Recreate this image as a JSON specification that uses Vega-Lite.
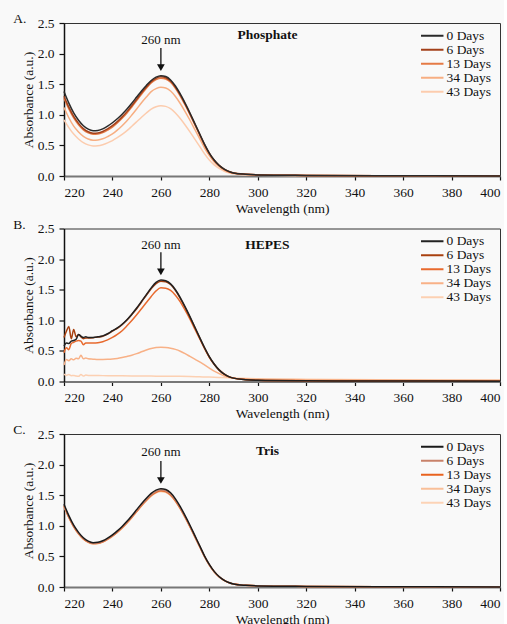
{
"$schema":"https://vega.github.io/schema/vega-lite/v6.json",
"background":"#f9f9f9",
"padding":{"left":12,"top":11,"right":0,"bottom":0},
"config":{
 "font":"Times New Roman, Liberation Serif, serif",
 "text":{"font":"Times New Roman, Liberation Serif, serif"},
 "view":{"stroke":"#333","strokeWidth":1},
 "axis":{"grid":false,"labelOverlap":false,"labelFontSize":13.5,"titleFontSize":13.5,"titleFontWeight":"normal","labelColor":"#111","titleColor":"#111","domainColor":"#111","domainWidth":1.5,"tickColor":"#111","tickWidth":1.2,"labelFont":"Times New Roman, Liberation Serif, serif","titleFont":"Times New Roman, Liberation Serif, serif"},
 "axisX":{"tickSize":4,"labelPadding":5,"titlePadding":2.5,"domainColor":"#777","domainWidth":2},
 "axisY":{"tickSize":5,"labelPadding":5,"titlePadding":2},
 "legend":{"symbolType":"M-3,0H3","symbolSize":56,"symbolStrokeWidth":2,"labelFontSize":13.5,"labelFont":"Times New Roman, Liberation Serif, serif","labelColor":"#111","rowPadding":-1.7,"labelOffset":7.5,"padding":0},
 "concat":{"spacing":1.5}
},
"datasets":{
"A":[
{"w":220,"s":"43 Days","a":0.918},{"w":222,"s":"43 Days","a":0.791},{"w":224,"s":"43 Days","a":0.685},{"w":226,"s":"43 Days","a":0.605},{"w":228,"s":"43 Days","a":0.545},{"w":230,"s":"43 Days","a":0.509},{"w":232,"s":"43 Days","a":0.492},{"w":234,"s":"43 Days","a":0.495},{"w":236,"s":"43 Days","a":0.512},{"w":238,"s":"43 Days","a":0.542},{"w":240,"s":"43 Days","a":0.579},{"w":242,"s":"43 Days","a":0.626},{"w":244,"s":"43 Days","a":0.681},{"w":246,"s":"43 Days","a":0.742},{"w":248,"s":"43 Days","a":0.813},{"w":250,"s":"43 Days","a":0.886},{"w":252,"s":"43 Days","a":0.96},{"w":254,"s":"43 Days","a":1.03},{"w":256,"s":"43 Days","a":1.092},{"w":258,"s":"43 Days","a":1.131},{"w":260,"s":"43 Days","a":1.148},{"w":262,"s":"43 Days","a":1.138},{"w":264,"s":"43 Days","a":1.099},{"w":266,"s":"43 Days","a":1.029},{"w":268,"s":"43 Days","a":0.938},{"w":270,"s":"43 Days","a":0.833},{"w":272,"s":"43 Days","a":0.721},{"w":274,"s":"43 Days","a":0.602},{"w":276,"s":"43 Days","a":0.483},{"w":278,"s":"43 Days","a":0.364},{"w":280,"s":"43 Days","a":0.263},{"w":282,"s":"43 Days","a":0.182},{"w":284,"s":"43 Days","a":0.123},{"w":286,"s":"43 Days","a":0.081},{"w":288,"s":"43 Days","a":0.053},{"w":290,"s":"43 Days","a":0.035},{"w":295,"s":"43 Days","a":0.02},{"w":300,"s":"43 Days","a":0.013},{"w":320,"s":"43 Days","a":0.007},{"w":350,"s":"43 Days","a":0.004},{"w":400,"s":"43 Days","a":0.002},
{"w":220,"s":"34 Days","a":1.12},{"w":222,"s":"34 Days","a":0.952},{"w":224,"s":"34 Days","a":0.814},{"w":226,"s":"34 Days","a":0.719},{"w":228,"s":"34 Days","a":0.648},{"w":230,"s":"34 Days","a":0.604},{"w":232,"s":"34 Days","a":0.585},{"w":234,"s":"34 Days","a":0.589},{"w":236,"s":"34 Days","a":0.608},{"w":238,"s":"34 Days","a":0.644},{"w":240,"s":"34 Days","a":0.687},{"w":242,"s":"34 Days","a":0.75},{"w":244,"s":"34 Days","a":0.822},{"w":246,"s":"34 Days","a":0.903},{"w":248,"s":"34 Days","a":0.996},{"w":250,"s":"34 Days","a":1.095},{"w":252,"s":"34 Days","a":1.197},{"w":254,"s":"34 Days","a":1.291},{"w":256,"s":"34 Days","a":1.379},{"w":258,"s":"34 Days","a":1.428},{"w":260,"s":"34 Days","a":1.45},{"w":262,"s":"34 Days","a":1.437},{"w":264,"s":"34 Days","a":1.388},{"w":266,"s":"34 Days","a":1.299},{"w":268,"s":"34 Days","a":1.185},{"w":270,"s":"34 Days","a":1.052},{"w":272,"s":"34 Days","a":0.911},{"w":274,"s":"34 Days","a":0.76},{"w":276,"s":"34 Days","a":0.61},{"w":278,"s":"34 Days","a":0.46},{"w":280,"s":"34 Days","a":0.332},{"w":282,"s":"34 Days","a":0.23},{"w":284,"s":"34 Days","a":0.155},{"w":286,"s":"34 Days","a":0.102},{"w":288,"s":"34 Days","a":0.066},{"w":290,"s":"34 Days","a":0.044},{"w":295,"s":"34 Days","a":0.025},{"w":300,"s":"34 Days","a":0.016},{"w":320,"s":"34 Days","a":0.009},{"w":350,"s":"34 Days","a":0.005},{"w":400,"s":"34 Days","a":0.002},
{"w":220,"s":"13 Days","a":1.27},{"w":222,"s":"13 Days","a":1.095},{"w":224,"s":"13 Days","a":0.948},{"w":226,"s":"13 Days","a":0.837},{"w":228,"s":"13 Days","a":0.754},{"w":230,"s":"13 Days","a":0.704},{"w":232,"s":"13 Days","a":0.681},{"w":234,"s":"13 Days","a":0.685},{"w":236,"s":"13 Days","a":0.708},{"w":238,"s":"13 Days","a":0.75},{"w":240,"s":"13 Days","a":0.8},{"w":242,"s":"13 Days","a":0.867},{"w":244,"s":"13 Days","a":0.943},{"w":246,"s":"13 Days","a":1.03},{"w":248,"s":"13 Days","a":1.128},{"w":250,"s":"13 Days","a":1.231},{"w":252,"s":"13 Days","a":1.336},{"w":254,"s":"13 Days","a":1.433},{"w":256,"s":"13 Days","a":1.521},{"w":258,"s":"13 Days","a":1.575},{"w":260,"s":"13 Days","a":1.599},{"w":262,"s":"13 Days","a":1.584},{"w":264,"s":"13 Days","a":1.531},{"w":266,"s":"13 Days","a":1.433},{"w":268,"s":"13 Days","a":1.307},{"w":270,"s":"13 Days","a":1.16},{"w":272,"s":"13 Days","a":1.004},{"w":274,"s":"13 Days","a":0.839},{"w":276,"s":"13 Days","a":0.673},{"w":278,"s":"13 Days","a":0.507},{"w":280,"s":"13 Days","a":0.366},{"w":282,"s":"13 Days","a":0.254},{"w":284,"s":"13 Days","a":0.171},{"w":286,"s":"13 Days","a":0.112},{"w":288,"s":"13 Days","a":0.073},{"w":290,"s":"13 Days","a":0.049},{"w":295,"s":"13 Days","a":0.027},{"w":300,"s":"13 Days","a":0.018},{"w":320,"s":"13 Days","a":0.01},{"w":350,"s":"13 Days","a":0.005},{"w":400,"s":"13 Days","a":0.002},
{"w":220,"s":"6 Days","a":1.304},{"w":222,"s":"6 Days","a":1.125},{"w":224,"s":"6 Days","a":0.973},{"w":226,"s":"6 Days","a":0.86},{"w":228,"s":"6 Days","a":0.775},{"w":230,"s":"6 Days","a":0.723},{"w":232,"s":"6 Days","a":0.699},{"w":234,"s":"6 Days","a":0.704},{"w":236,"s":"6 Days","a":0.728},{"w":238,"s":"6 Days","a":0.77},{"w":240,"s":"6 Days","a":0.822},{"w":242,"s":"6 Days","a":0.888},{"w":244,"s":"6 Days","a":0.966},{"w":246,"s":"6 Days","a":1.052},{"w":248,"s":"6 Days","a":1.15},{"w":250,"s":"6 Days","a":1.253},{"w":252,"s":"6 Days","a":1.358},{"w":254,"s":"6 Days","a":1.453},{"w":256,"s":"6 Days","a":1.541},{"w":258,"s":"6 Days","a":1.596},{"w":260,"s":"6 Days","a":1.62},{"w":262,"s":"6 Days","a":1.606},{"w":264,"s":"6 Days","a":1.551},{"w":266,"s":"6 Days","a":1.452},{"w":268,"s":"6 Days","a":1.324},{"w":270,"s":"6 Days","a":1.176},{"w":272,"s":"6 Days","a":1.018},{"w":274,"s":"6 Days","a":0.85},{"w":276,"s":"6 Days","a":0.682},{"w":278,"s":"6 Days","a":0.514},{"w":280,"s":"6 Days","a":0.37},{"w":282,"s":"6 Days","a":0.257},{"w":284,"s":"6 Days","a":0.173},{"w":286,"s":"6 Days","a":0.114},{"w":288,"s":"6 Days","a":0.074},{"w":290,"s":"6 Days","a":0.049},{"w":295,"s":"6 Days","a":0.028},{"w":300,"s":"6 Days","a":0.018},{"w":320,"s":"6 Days","a":0.01},{"w":350,"s":"6 Days","a":0.005},{"w":400,"s":"6 Days","a":0.002},
{"w":220,"s":"0 Days","a":1.38},{"w":222,"s":"0 Days","a":1.19},{"w":224,"s":"0 Days","a":1.03},{"w":226,"s":"0 Days","a":0.91},{"w":228,"s":"0 Days","a":0.82},{"w":230,"s":"0 Days","a":0.765},{"w":232,"s":"0 Days","a":0.74},{"w":234,"s":"0 Days","a":0.745},{"w":236,"s":"0 Days","a":0.77},{"w":238,"s":"0 Days","a":0.815},{"w":240,"s":"0 Days","a":0.87},{"w":242,"s":"0 Days","a":0.935},{"w":244,"s":"0 Days","a":1.01},{"w":246,"s":"0 Days","a":1.095},{"w":248,"s":"0 Days","a":1.19},{"w":250,"s":"0 Days","a":1.29},{"w":252,"s":"0 Days","a":1.39},{"w":254,"s":"0 Days","a":1.48},{"w":256,"s":"0 Days","a":1.56},{"w":258,"s":"0 Days","a":1.615},{"w":260,"s":"0 Days","a":1.64},{"w":262,"s":"0 Days","a":1.625},{"w":264,"s":"0 Days","a":1.57},{"w":266,"s":"0 Days","a":1.47},{"w":268,"s":"0 Days","a":1.34},{"w":270,"s":"0 Days","a":1.19},{"w":272,"s":"0 Days","a":1.03},{"w":274,"s":"0 Days","a":0.86},{"w":276,"s":"0 Days","a":0.69},{"w":278,"s":"0 Days","a":0.52},{"w":280,"s":"0 Days","a":0.375},{"w":282,"s":"0 Days","a":0.26},{"w":284,"s":"0 Days","a":0.175},{"w":286,"s":"0 Days","a":0.115},{"w":288,"s":"0 Days","a":0.075},{"w":290,"s":"0 Days","a":0.05},{"w":295,"s":"0 Days","a":0.028},{"w":300,"s":"0 Days","a":0.018},{"w":320,"s":"0 Days","a":0.01},{"w":350,"s":"0 Days","a":0.005},{"w":400,"s":"0 Days","a":0.002}
],
"B":[
{"w":220,"s":"43 Days","a":0.12},{"w":221,"s":"43 Days","a":0.1},{"w":222,"s":"43 Days","a":0.115},{"w":223,"s":"43 Days","a":0.095},{"w":224,"s":"43 Days","a":0.1},{"w":225,"s":"43 Days","a":0.09},{"w":226,"s":"43 Days","a":0.085},{"w":227,"s":"43 Days","a":0.115},{"w":228,"s":"43 Days","a":0.09},{"w":229,"s":"43 Days","a":0.105},{"w":230,"s":"43 Days","a":0.1},{"w":232,"s":"43 Days","a":0.098},{"w":234,"s":"43 Days","a":0.097},{"w":236,"s":"43 Days","a":0.096},{"w":238,"s":"43 Days","a":0.095},{"w":240,"s":"43 Days","a":0.094},{"w":244,"s":"43 Days","a":0.092},{"w":248,"s":"43 Days","a":0.091},{"w":252,"s":"43 Days","a":0.089},{"w":256,"s":"43 Days","a":0.088},{"w":260,"s":"43 Days","a":0.087},{"w":264,"s":"43 Days","a":0.086},{"w":268,"s":"43 Days","a":0.084},{"w":272,"s":"43 Days","a":0.081},{"w":276,"s":"43 Days","a":0.077},{"w":280,"s":"43 Days","a":0.072},{"w":284,"s":"43 Days","a":0.067},{"w":288,"s":"43 Days","a":0.061},{"w":292,"s":"43 Days","a":0.055},{"w":300,"s":"43 Days","a":0.045},{"w":320,"s":"43 Days","a":0.035},{"w":350,"s":"43 Days","a":0.028},{"w":400,"s":"43 Days","a":0.02},
{"w":220,"s":"34 Days","a":0.27},{"w":221,"s":"34 Days","a":0.36},{"w":222,"s":"34 Days","a":0.34},{"w":223,"s":"34 Days","a":0.37},{"w":224,"s":"34 Days","a":0.355},{"w":225,"s":"34 Days","a":0.38},{"w":226,"s":"34 Days","a":0.37},{"w":227,"s":"34 Days","a":0.43},{"w":228,"s":"34 Days","a":0.37},{"w":229,"s":"34 Days","a":0.385},{"w":230,"s":"34 Days","a":0.37},{"w":232,"s":"34 Days","a":0.365},{"w":234,"s":"34 Days","a":0.36},{"w":236,"s":"34 Days","a":0.36},{"w":238,"s":"34 Days","a":0.362},{"w":240,"s":"34 Days","a":0.367},{"w":242,"s":"34 Days","a":0.377},{"w":244,"s":"34 Days","a":0.392},{"w":246,"s":"34 Days","a":0.41},{"w":248,"s":"34 Days","a":0.43},{"w":250,"s":"34 Days","a":0.455},{"w":252,"s":"34 Days","a":0.485},{"w":254,"s":"34 Days","a":0.515},{"w":256,"s":"34 Days","a":0.54},{"w":258,"s":"34 Days","a":0.555},{"w":260,"s":"34 Days","a":0.56},{"w":262,"s":"34 Days","a":0.556},{"w":264,"s":"34 Days","a":0.545},{"w":266,"s":"34 Days","a":0.525},{"w":268,"s":"34 Days","a":0.495},{"w":270,"s":"34 Days","a":0.455},{"w":272,"s":"34 Days","a":0.41},{"w":274,"s":"34 Days","a":0.365},{"w":276,"s":"34 Days","a":0.32},{"w":278,"s":"34 Days","a":0.27},{"w":280,"s":"34 Days","a":0.22},{"w":282,"s":"34 Days","a":0.17},{"w":284,"s":"34 Days","a":0.13},{"w":286,"s":"34 Days","a":0.095},{"w":288,"s":"34 Days","a":0.07},{"w":290,"s":"34 Days","a":0.055},{"w":295,"s":"34 Days","a":0.042},{"w":300,"s":"34 Days","a":0.036},{"w":320,"s":"34 Days","a":0.03},{"w":350,"s":"34 Days","a":0.025},{"w":400,"s":"34 Days","a":0.02},
{"w":220,"s":"13 Days","a":0.47},{"w":221,"s":"13 Days","a":0.55},{"w":222,"s":"13 Days","a":0.52},{"w":223,"s":"13 Days","a":0.62},{"w":224,"s":"13 Days","a":0.64},{"w":225,"s":"13 Days","a":0.66},{"w":226,"s":"13 Days","a":0.67},{"w":227,"s":"13 Days","a":0.66},{"w":228,"s":"13 Days","a":0.6},{"w":229,"s":"13 Days","a":0.63},{"w":230,"s":"13 Days","a":0.63},{"w":232,"s":"13 Days","a":0.63},{"w":234,"s":"13 Days","a":0.635},{"w":236,"s":"13 Days","a":0.65},{"w":238,"s":"13 Days","a":0.68},{"w":240,"s":"13 Days","a":0.72},{"w":242,"s":"13 Days","a":0.77},{"w":244,"s":"13 Days","a":0.83},{"w":246,"s":"13 Days","a":0.91},{"w":248,"s":"13 Days","a":0.995},{"w":250,"s":"13 Days","a":1.09},{"w":252,"s":"13 Days","a":1.19},{"w":254,"s":"13 Days","a":1.29},{"w":256,"s":"13 Days","a":1.39},{"w":258,"s":"13 Days","a":1.48},{"w":260,"s":"13 Days","a":1.53},{"w":262,"s":"13 Days","a":1.525},{"w":264,"s":"13 Days","a":1.49},{"w":266,"s":"13 Days","a":1.41},{"w":268,"s":"13 Days","a":1.3},{"w":270,"s":"13 Days","a":1.165},{"w":272,"s":"13 Days","a":1.02},{"w":274,"s":"13 Days","a":0.86},{"w":276,"s":"13 Days","a":0.7},{"w":278,"s":"13 Days","a":0.54},{"w":280,"s":"13 Days","a":0.395},{"w":282,"s":"13 Days","a":0.28},{"w":284,"s":"13 Days","a":0.19},{"w":286,"s":"13 Days","a":0.125},{"w":288,"s":"13 Days","a":0.08},{"w":290,"s":"13 Days","a":0.055},{"w":295,"s":"13 Days","a":0.032},{"w":300,"s":"13 Days","a":0.022},{"w":320,"s":"13 Days","a":0.014},{"w":350,"s":"13 Days","a":0.01},{"w":400,"s":"13 Days","a":0.007},
{"w":220,"s":"6 Days","a":0.72},{"w":221,"s":"6 Days","a":0.82},{"w":222,"s":"6 Days","a":0.9},{"w":223,"s":"6 Days","a":0.7},{"w":224,"s":"6 Days","a":0.85},{"w":225,"s":"6 Days","a":0.73},{"w":226,"s":"6 Days","a":0.77},{"w":227,"s":"6 Days","a":0.73},{"w":228,"s":"6 Days","a":0.7},{"w":229,"s":"6 Days","a":0.71},{"w":230,"s":"6 Days","a":0.71},{"w":232,"s":"6 Days","a":0.715},{"w":234,"s":"6 Days","a":0.725},{"w":236,"s":"6 Days","a":0.74},{"w":238,"s":"6 Days","a":0.775},{"w":240,"s":"6 Days","a":0.825},{"w":242,"s":"6 Days","a":0.87},{"w":244,"s":"6 Days","a":0.93},{"w":246,"s":"6 Days","a":1.005},{"w":248,"s":"6 Days","a":1.095},{"w":250,"s":"6 Days","a":1.19},{"w":252,"s":"6 Days","a":1.3},{"w":254,"s":"6 Days","a":1.41},{"w":256,"s":"6 Days","a":1.515},{"w":258,"s":"6 Days","a":1.6},{"w":260,"s":"6 Days","a":1.64},{"w":262,"s":"6 Days","a":1.63},{"w":264,"s":"6 Days","a":1.585},{"w":266,"s":"6 Days","a":1.49},{"w":268,"s":"6 Days","a":1.36},{"w":270,"s":"6 Days","a":1.21},{"w":272,"s":"6 Days","a":1.05},{"w":274,"s":"6 Days","a":0.885},{"w":276,"s":"6 Days","a":0.715},{"w":278,"s":"6 Days","a":0.55},{"w":280,"s":"6 Days","a":0.4},{"w":282,"s":"6 Days","a":0.283},{"w":284,"s":"6 Days","a":0.19},{"w":286,"s":"6 Days","a":0.125},{"w":288,"s":"6 Days","a":0.08},{"w":290,"s":"6 Days","a":0.055},{"w":295,"s":"6 Days","a":0.03},{"w":300,"s":"6 Days","a":0.02},{"w":320,"s":"6 Days","a":0.012},{"w":350,"s":"6 Days","a":0.008},{"w":400,"s":"6 Days","a":0.005},
{"w":220,"s":"0 Days","a":0.58},{"w":221,"s":"0 Days","a":0.63},{"w":222,"s":"0 Days","a":0.62},{"w":223,"s":"0 Days","a":0.66},{"w":224,"s":"0 Days","a":0.67},{"w":225,"s":"0 Days","a":0.69},{"w":226,"s":"0 Days","a":0.77},{"w":227,"s":"0 Days","a":0.74},{"w":228,"s":"0 Days","a":0.72},{"w":229,"s":"0 Days","a":0.73},{"w":230,"s":"0 Days","a":0.72},{"w":232,"s":"0 Days","a":0.72},{"w":234,"s":"0 Days","a":0.73},{"w":236,"s":"0 Days","a":0.745},{"w":238,"s":"0 Days","a":0.78},{"w":240,"s":"0 Days","a":0.83},{"w":242,"s":"0 Days","a":0.875},{"w":244,"s":"0 Days","a":0.935},{"w":246,"s":"0 Days","a":1.01},{"w":248,"s":"0 Days","a":1.1},{"w":250,"s":"0 Days","a":1.2},{"w":252,"s":"0 Days","a":1.31},{"w":254,"s":"0 Days","a":1.42},{"w":256,"s":"0 Days","a":1.53},{"w":258,"s":"0 Days","a":1.62},{"w":260,"s":"0 Days","a":1.66},{"w":262,"s":"0 Days","a":1.645},{"w":264,"s":"0 Days","a":1.595},{"w":266,"s":"0 Days","a":1.5},{"w":268,"s":"0 Days","a":1.37},{"w":270,"s":"0 Days","a":1.22},{"w":272,"s":"0 Days","a":1.06},{"w":274,"s":"0 Days","a":0.89},{"w":276,"s":"0 Days","a":0.72},{"w":278,"s":"0 Days","a":0.555},{"w":280,"s":"0 Days","a":0.405},{"w":282,"s":"0 Days","a":0.285},{"w":284,"s":"0 Days","a":0.19},{"w":286,"s":"0 Days","a":0.125},{"w":288,"s":"0 Days","a":0.08},{"w":290,"s":"0 Days","a":0.055},{"w":295,"s":"0 Days","a":0.03},{"w":300,"s":"0 Days","a":0.02},{"w":320,"s":"0 Days","a":0.012},{"w":350,"s":"0 Days","a":0.008},{"w":400,"s":"0 Days","a":0.005}
],
"C":[
{"w":220,"s":"43 Days","a":1.318},{"w":222,"s":"43 Days","a":1.137},{"w":224,"s":"43 Days","a":0.984},{"w":226,"s":"43 Days","a":0.87},{"w":228,"s":"43 Days","a":0.784},{"w":230,"s":"43 Days","a":0.731},{"w":232,"s":"43 Days","a":0.707},{"w":234,"s":"43 Days","a":0.712},{"w":236,"s":"43 Days","a":0.736},{"w":238,"s":"43 Days","a":0.779},{"w":240,"s":"43 Days","a":0.832},{"w":242,"s":"43 Days","a":0.893},{"w":244,"s":"43 Days","a":0.965},{"w":246,"s":"43 Days","a":1.046},{"w":248,"s":"43 Days","a":1.137},{"w":250,"s":"43 Days","a":1.232},{"w":252,"s":"43 Days","a":1.328},{"w":254,"s":"43 Days","a":1.414},{"w":256,"s":"43 Days","a":1.491},{"w":258,"s":"43 Days","a":1.543},{"w":260,"s":"43 Days","a":1.567},{"w":262,"s":"43 Days","a":1.553},{"w":264,"s":"43 Days","a":1.501},{"w":266,"s":"43 Days","a":1.405},{"w":268,"s":"43 Days","a":1.28},{"w":270,"s":"43 Days","a":1.137},{"w":272,"s":"43 Days","a":0.984},{"w":274,"s":"43 Days","a":0.822},{"w":276,"s":"43 Days","a":0.659},{"w":278,"s":"43 Days","a":0.497},{"w":280,"s":"43 Days","a":0.359},{"w":282,"s":"43 Days","a":0.249},{"w":284,"s":"43 Days","a":0.168},{"w":286,"s":"43 Days","a":0.11},{"w":288,"s":"43 Days","a":0.072},{"w":290,"s":"43 Days","a":0.048},{"w":295,"s":"43 Days","a":0.027},{"w":300,"s":"43 Days","a":0.018},{"w":320,"s":"43 Days","a":0.01},{"w":350,"s":"43 Days","a":0.005},{"w":400,"s":"43 Days","a":0.002},
{"w":220,"s":"34 Days","a":1.314},{"w":222,"s":"34 Days","a":1.133},{"w":224,"s":"34 Days","a":0.981},{"w":226,"s":"34 Days","a":0.867},{"w":228,"s":"34 Days","a":0.781},{"w":230,"s":"34 Days","a":0.729},{"w":232,"s":"34 Days","a":0.705},{"w":234,"s":"34 Days","a":0.71},{"w":236,"s":"34 Days","a":0.734},{"w":238,"s":"34 Days","a":0.777},{"w":240,"s":"34 Days","a":0.829},{"w":242,"s":"34 Days","a":0.89},{"w":244,"s":"34 Days","a":0.962},{"w":246,"s":"34 Days","a":1.043},{"w":248,"s":"34 Days","a":1.133},{"w":250,"s":"34 Days","a":1.229},{"w":252,"s":"34 Days","a":1.324},{"w":254,"s":"34 Days","a":1.409},{"w":256,"s":"34 Days","a":1.486},{"w":258,"s":"34 Days","a":1.539},{"w":260,"s":"34 Days","a":1.562},{"w":262,"s":"34 Days","a":1.548},{"w":264,"s":"34 Days","a":1.496},{"w":266,"s":"34 Days","a":1.401},{"w":268,"s":"34 Days","a":1.276},{"w":270,"s":"34 Days","a":1.133},{"w":272,"s":"34 Days","a":0.981},{"w":274,"s":"34 Days","a":0.819},{"w":276,"s":"34 Days","a":0.657},{"w":278,"s":"34 Days","a":0.496},{"w":280,"s":"34 Days","a":0.358},{"w":282,"s":"34 Days","a":0.248},{"w":284,"s":"34 Days","a":0.167},{"w":286,"s":"34 Days","a":0.11},{"w":288,"s":"34 Days","a":0.072},{"w":290,"s":"34 Days","a":0.048},{"w":295,"s":"34 Days","a":0.027},{"w":300,"s":"34 Days","a":0.018},{"w":320,"s":"34 Days","a":0.01},{"w":350,"s":"34 Days","a":0.005},{"w":400,"s":"34 Days","a":0.002},
{"w":220,"s":"13 Days","a":1.322},{"w":222,"s":"13 Days","a":1.14},{"w":224,"s":"13 Days","a":0.987},{"w":226,"s":"13 Days","a":0.872},{"w":228,"s":"13 Days","a":0.786},{"w":230,"s":"13 Days","a":0.734},{"w":232,"s":"13 Days","a":0.709},{"w":234,"s":"13 Days","a":0.714},{"w":236,"s":"13 Days","a":0.738},{"w":238,"s":"13 Days","a":0.781},{"w":240,"s":"13 Days","a":0.834},{"w":242,"s":"13 Days","a":0.896},{"w":244,"s":"13 Days","a":0.968},{"w":246,"s":"13 Days","a":1.049},{"w":248,"s":"13 Days","a":1.14},{"w":250,"s":"13 Days","a":1.236},{"w":252,"s":"13 Days","a":1.332},{"w":254,"s":"13 Days","a":1.418},{"w":256,"s":"13 Days","a":1.495},{"w":258,"s":"13 Days","a":1.548},{"w":260,"s":"13 Days","a":1.572},{"w":262,"s":"13 Days","a":1.558},{"w":264,"s":"13 Days","a":1.505},{"w":266,"s":"13 Days","a":1.409},{"w":268,"s":"13 Days","a":1.284},{"w":270,"s":"13 Days","a":1.14},{"w":272,"s":"13 Days","a":0.987},{"w":274,"s":"13 Days","a":0.824},{"w":276,"s":"13 Days","a":0.661},{"w":278,"s":"13 Days","a":0.499},{"w":280,"s":"13 Days","a":0.36},{"w":282,"s":"13 Days","a":0.249},{"w":284,"s":"13 Days","a":0.168},{"w":286,"s":"13 Days","a":0.111},{"w":288,"s":"13 Days","a":0.072},{"w":290,"s":"13 Days","a":0.048},{"w":295,"s":"13 Days","a":0.027},{"w":300,"s":"13 Days","a":0.018},{"w":320,"s":"13 Days","a":0.01},{"w":350,"s":"13 Days","a":0.005},{"w":400,"s":"13 Days","a":0.002},
{"w":220,"s":"6 Days","a":1.332},{"w":222,"s":"6 Days","a":1.149},{"w":224,"s":"6 Days","a":0.994},{"w":226,"s":"6 Days","a":0.879},{"w":228,"s":"6 Days","a":0.792},{"w":230,"s":"6 Days","a":0.739},{"w":232,"s":"6 Days","a":0.714},{"w":234,"s":"6 Days","a":0.719},{"w":236,"s":"6 Days","a":0.744},{"w":238,"s":"6 Days","a":0.787},{"w":240,"s":"6 Days","a":0.84},{"w":242,"s":"6 Days","a":0.902},{"w":244,"s":"6 Days","a":0.975},{"w":246,"s":"6 Days","a":1.057},{"w":248,"s":"6 Days","a":1.149},{"w":250,"s":"6 Days","a":1.245},{"w":252,"s":"6 Days","a":1.342},{"w":254,"s":"6 Days","a":1.428},{"w":256,"s":"6 Days","a":1.506},{"w":258,"s":"6 Days","a":1.559},{"w":260,"s":"6 Days","a":1.583},{"w":262,"s":"6 Days","a":1.569},{"w":264,"s":"6 Days","a":1.516},{"w":266,"s":"6 Days","a":1.419},{"w":268,"s":"6 Days","a":1.293},{"w":270,"s":"6 Days","a":1.149},{"w":272,"s":"6 Days","a":0.994},{"w":274,"s":"6 Days","a":0.83},{"w":276,"s":"6 Days","a":0.666},{"w":278,"s":"6 Days","a":0.502},{"w":280,"s":"6 Days","a":0.362},{"w":282,"s":"6 Days","a":0.251},{"w":284,"s":"6 Days","a":0.169},{"w":286,"s":"6 Days","a":0.111},{"w":288,"s":"6 Days","a":0.073},{"w":290,"s":"6 Days","a":0.048},{"w":295,"s":"6 Days","a":0.027},{"w":300,"s":"6 Days","a":0.018},{"w":320,"s":"6 Days","a":0.01},{"w":350,"s":"6 Days","a":0.005},{"w":400,"s":"6 Days","a":0.002},
{"w":220,"s":"0 Days","a":1.352},{"w":222,"s":"0 Days","a":1.166},{"w":224,"s":"0 Days","a":1.009},{"w":226,"s":"0 Days","a":0.892},{"w":228,"s":"0 Days","a":0.804},{"w":230,"s":"0 Days","a":0.75},{"w":232,"s":"0 Days","a":0.725},{"w":234,"s":"0 Days","a":0.73},{"w":236,"s":"0 Days","a":0.755},{"w":238,"s":"0 Days","a":0.799},{"w":240,"s":"0 Days","a":0.853},{"w":242,"s":"0 Days","a":0.916},{"w":244,"s":"0 Days","a":0.99},{"w":246,"s":"0 Days","a":1.073},{"w":248,"s":"0 Days","a":1.166},{"w":250,"s":"0 Days","a":1.264},{"w":252,"s":"0 Days","a":1.362},{"w":254,"s":"0 Days","a":1.45},{"w":256,"s":"0 Days","a":1.529},{"w":258,"s":"0 Days","a":1.583},{"w":260,"s":"0 Days","a":1.607},{"w":262,"s":"0 Days","a":1.593},{"w":264,"s":"0 Days","a":1.539},{"w":266,"s":"0 Days","a":1.441},{"w":268,"s":"0 Days","a":1.313},{"w":270,"s":"0 Days","a":1.166},{"w":272,"s":"0 Days","a":1.009},{"w":274,"s":"0 Days","a":0.843},{"w":276,"s":"0 Days","a":0.676},{"w":278,"s":"0 Days","a":0.51},{"w":280,"s":"0 Days","a":0.368},{"w":282,"s":"0 Days","a":0.255},{"w":284,"s":"0 Days","a":0.172},{"w":286,"s":"0 Days","a":0.113},{"w":288,"s":"0 Days","a":0.074},{"w":290,"s":"0 Days","a":0.049},{"w":295,"s":"0 Days","a":0.027},{"w":300,"s":"0 Days","a":0.018},{"w":320,"s":"0 Days","a":0.01},{"w":350,"s":"0 Days","a":0.005},{"w":400,"s":"0 Days","a":0.002}
]
},
"vconcat":[
{"width":436,"height":153,
 "encoding":{
  "x":{"field":"w","type":"quantitative","scale":{"domain":[220,400],"nice":false},"axis":{"values":[220,240,260,280,300,320,340,360,380,400],"title":"Wavelength (nm)"}},
  "y":{"field":"a","type":"quantitative","scale":{"domain":[0,2.5],"nice":false},"axis":{"values":[0,0.5,1,1.5,2,2.5],"format":".1f","title":"Absorbance (a.u.)"}}},
 "layer":[
  {"data":{"name":"A"},"mark":{"type":"line","strokeWidth":1.5,"interpolate":"monotone"},
   "encoding":{"color":{"field":"s","type":"nominal","scale":{"domain":["0 Days","6 Days","13 Days","34 Days","43 Days"],"range":["#2a2a2a","#a3401a","#e57a45","#f7ae82","#fcccae"]},"legend":{"title":null,"orient":"none","legendX":361.5,"legendY":6}}}},
  {"data":{"values":[{"w":199,"a":2.565,"t":"A."}]},"mark":{"type":"text","fontSize":13.5,"color":"#111","align":"left","baseline":"middle","clip":false},"encoding":{"text":{"field":"t"}}},
  {"data":{"values":[{"w":304,"a":2.31,"t":"Phosphate"}]},"mark":{"type":"text","fontWeight":"bold","fontSize":13.5,"color":"#111"},"encoding":{"text":{"field":"t"}}},
  {"data":{"values":[{"w":260,"a":2.22,"t":"260 nm"}]},"mark":{"type":"text","fontSize":13,"color":"#111"},"encoding":{"text":{"field":"t"}}},
  {"data":{"values":[{"w":260,"a":2.09,"a2":1.79}]},"mark":{"type":"rule","color":"#111","strokeWidth":1.3},"encoding":{"y2":{"field":"a2"}}},
  {"data":{"values":[{"w":260,"a":1.77}]},"mark":{"type":"point","shape":"triangle-down","filled":true,"color":"#111","opacity":1,"size":60},"encoding":{}}
 ]},
{"width":436,"height":153,
 "encoding":{
  "x":{"field":"w","type":"quantitative","scale":{"domain":[220,400],"nice":false},"axis":{"values":[220,240,260,280,300,320,340,360,380,400],"title":"Wavelength (nm)"}},
  "y":{"field":"a","type":"quantitative","scale":{"domain":[0,2.5],"nice":false},"axis":{"values":[0,0.5,1,1.5,2,2.5],"format":".1f","title":"Absorbance (a.u.)"}}},
 "layer":[
  {"data":{"name":"B"},"mark":{"type":"line","strokeWidth":1.5,"interpolate":"monotone"},
   "encoding":{"color":{"field":"s","type":"nominal","scale":{"domain":["0 Days","6 Days","13 Days","34 Days","43 Days"],"range":["#222222","#a8400f","#e86a2e","#f8b187","#fcd0b2"]},"legend":{"title":null,"orient":"none","legendX":361.5,"legendY":6}}}},
  {"data":{"values":[{"w":199,"a":2.565,"t":"B."}]},"mark":{"type":"text","fontSize":13.5,"color":"#111","align":"left","baseline":"middle","clip":false},"encoding":{"text":{"field":"t"}}},
  {"data":{"values":[{"w":304,"a":2.23,"t":"HEPES"}]},"mark":{"type":"text","fontWeight":"bold","fontSize":13.5,"color":"#111"},"encoding":{"text":{"field":"t"}}},
  {"data":{"values":[{"w":260,"a":2.23,"t":"260 nm"}]},"mark":{"type":"text","fontSize":13,"color":"#111"},"encoding":{"text":{"field":"t"}}},
  {"data":{"values":[{"w":260,"a":2.11,"a2":1.81}]},"mark":{"type":"rule","color":"#111","strokeWidth":1.3},"encoding":{"y2":{"field":"a2"}}},
  {"data":{"values":[{"w":260,"a":1.79}]},"mark":{"type":"point","shape":"triangle-down","filled":true,"color":"#111","opacity":1,"size":60},"encoding":{}}
 ]},
{"width":436,"height":153,
 "encoding":{
  "x":{"field":"w","type":"quantitative","scale":{"domain":[220,400],"nice":false},"axis":{"values":[220,240,260,280,300,320,340,360,380,400],"title":"Wavelength (nm)"}},
  "y":{"field":"a","type":"quantitative","scale":{"domain":[0,2.5],"nice":false},"axis":{"values":[0,0.5,1,1.5,2,2.5],"format":".1f","title":"Absorbance (a.u.)"}}},
 "layer":[
  {"data":{"name":"C"},"mark":{"type":"line","strokeWidth":1.5,"interpolate":"monotone"},
   "encoding":{"color":{"field":"s","type":"nominal","scale":{"domain":["0 Days","6 Days","13 Days","34 Days","43 Days"],"range":["#1a1a1a","#c8826a","#e8621e","#f9bf98","#fcd3b6"]},"legend":{"title":null,"orient":"none","legendX":361.5,"legendY":6}}}},
  {"data":{"values":[{"w":199,"a":2.565,"t":"C."}]},"mark":{"type":"text","fontSize":13.5,"color":"#111","align":"left","baseline":"middle","clip":false},"encoding":{"text":{"field":"t"}}},
  {"data":{"values":[{"w":304,"a":2.225,"t":"Tris"}]},"mark":{"type":"text","fontWeight":"bold","fontSize":13.5,"color":"#111"},"encoding":{"text":{"field":"t"}}},
  {"data":{"values":[{"w":260,"a":2.21,"t":"260 nm"}]},"mark":{"type":"text","fontSize":13,"color":"#111"},"encoding":{"text":{"field":"t"}}},
  {"data":{"values":[{"w":260,"a":2.06,"a2":1.76}]},"mark":{"type":"rule","color":"#111","strokeWidth":1.3},"encoding":{"y2":{"field":"a2"}}},
  {"data":{"values":[{"w":260,"a":1.74}]},"mark":{"type":"point","shape":"triangle-down","filled":true,"color":"#111","opacity":1,"size":60},"encoding":{}}
 ]}
],
"resolve":{"scale":{"color":"independent"},"legend":{"color":"independent"}}
}
